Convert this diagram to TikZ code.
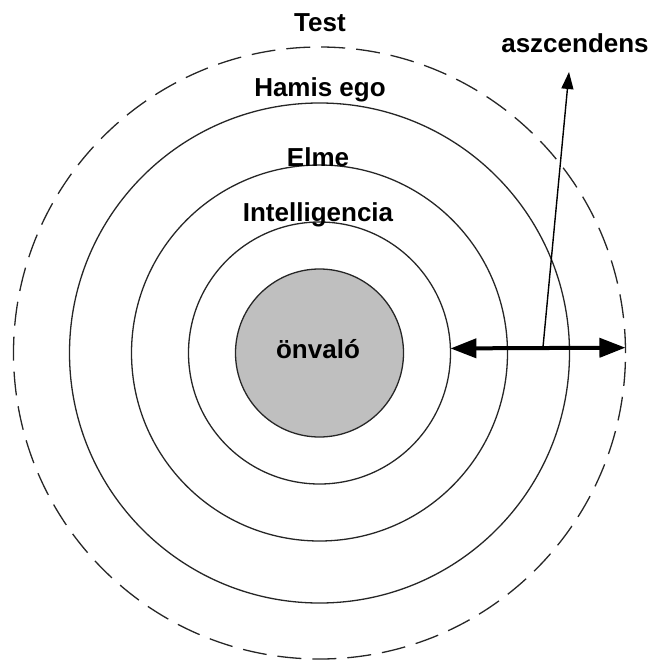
\documentclass[tikz,border=0pt]{standalone}
\usepackage{fontspec}
\setmainfont{Liberation Sans}
\usetikzlibrary{arrows.meta}
\begin{document}
\begin{tikzpicture}[x=1pt,y=-1pt,
  ring/.style={circle,draw=black!85,line width=1.3pt,inner sep=0pt,outer sep=0pt},
  lbl/.style={font=\fontsize{26}{26}\selectfont\bfseries,inner sep=0pt},
  dbl/.style={line width=4pt,{Triangle[length=26pt,width=19pt]}-{Triangle[length=26pt,width=19pt]}},
  asc/.style={line width=1.4pt,-{Triangle[length=17pt,width=12pt]}}]
\useasboundingbox (0,0) rectangle (656,660);
\coordinate (c) at (319.5,353);
\node[ring,dash pattern=on 24pt off 11pt,minimum size=612pt] (test) at (c) {};
\node[ring,minimum size=500pt] (hamis) at (c) {};
\node[ring,minimum size=376pt] (elme) at (c) {};
\node[ring,minimum size=262pt] (intel) at (c) {};
\node[ring,fill=black!25,minimum size=168pt] (self) at (c) {};
\node[lbl] (tselbl) at (318,349) {önvaló};
\node[lbl] (testlbl) at (320,23) {Test};
\node[lbl] (hamislbl) at (320,90) {Hamis ego};
\node[lbl] (elmelbl) at (318,157) {Elme};
\node[lbl] (intellbl) at (318,215) {Intelligencia};
\node[lbl] (asclbl) at (575,43) {aszcendens};
\draw[dbl] (intel.2.6) -- (test.1.1);
\coordinate (base) at (543,347);
\coordinate (tip) at (569,72);
\draw[asc] (base) -- (tip);
\end{tikzpicture}
\end{document}
